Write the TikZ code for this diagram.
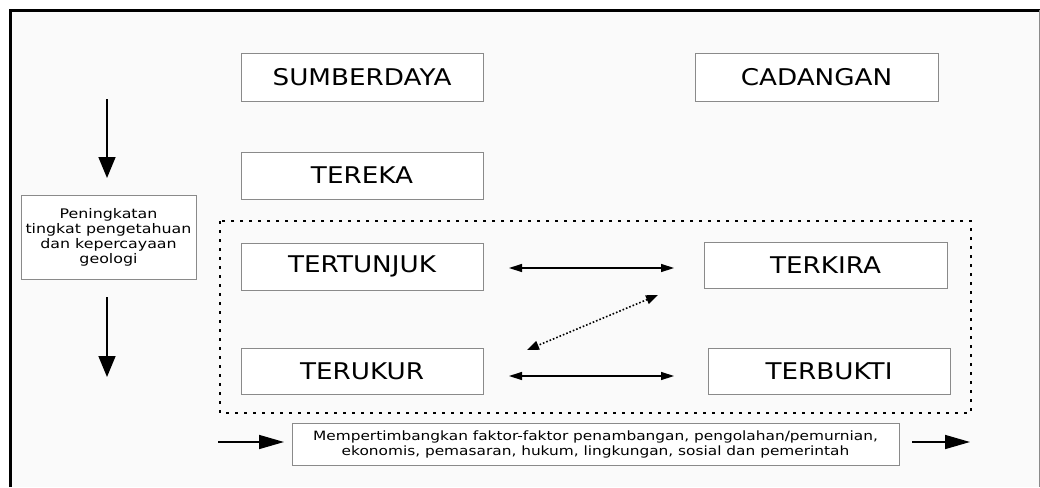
\documentclass[tikz,border=0pt]{standalone}
\usepackage{fontspec}
\setmainfont{DejaVu Sans}[FakeStretch=1.14]
\newfontfamily\smallf{DejaVu Sans}[FakeStretch=1.2]
\usetikzlibrary{arrows.meta}
\definecolor{bggrey}{HTML}{FAFAFA}
\definecolor{boxline}{HTML}{8A8A8A}
\tikzset{
  bigbox/.style={draw=boxline, line width=1pt, fill=white, minimum width=242pt, minimum height=47pt, inner sep=0pt, font=\fontsize{23}{26}\selectfont},
  smallbox/.style={draw=boxline, line width=1pt, fill=white, inner sep=0pt, align=center},
  bigarrow/.style={line width=1.6pt, -{Triangle[length=21pt,width=17pt]}},
  sidearrow/.style={line width=1.6pt, -{Triangle[length=25pt,width=14pt]}},
  dblarrow/.style={line width=1.4pt, {Triangle[length=13pt,width=8pt]}-{Triangle[length=13pt,width=8pt]}},
  dotarrow/.style={line width=1.6pt, dotted, {Triangle[length=12pt,width=9pt]}-{Triangle[length=12pt,width=9pt]}},
  dotframe/.style={line width=1.5pt, dash pattern=on 3pt off 6pt}
}
\begin{document}
\begin{tikzpicture}[x=1pt,y=-1pt]
\useasboundingbox (0,0) rectangle (1040,487);
\fill[white] (0,0) rectangle (1040,487);
\fill[bggrey] (10,10) rectangle (1039,487);
\draw[line width=3pt] (10.5,487) -- (10.5,10.5) -- (1040,10.5);
\draw[boxline, line width=1pt] (1039,10) -- (1039,487);

\node[bigbox] (sumber) at (362,77.5) {SUMBERDAYA};
\node[bigbox, minimum width=243pt] (cadangan) at (816.5,77.5) {CADANGAN};
\node[bigbox] (tereka) at (362,175.5) {TEREKA};
\node[bigbox] (tertunjuk) at (362,266.5) {TERTUNJUK};
\node[bigbox, minimum height=46pt] (terukur) at (362,371) {TERUKUR};
\node[bigbox, minimum width=243pt, minimum height=46pt] (terkira) at (825.5,265) {TERKIRA};
\node[bigbox, minimum height=46pt] (terbukti) at (829,371) {TERBUKTI};

\draw[dotframe] (220,221) rectangle (971,413);

\node[smallbox, minimum width=175pt, minimum height=84pt, font=\smallf\fontsize{13.2}{15}\selectfont] (left) at (108.5,237) {Peningkatan\\tingkat pengetahuan\\dan kepercayaan\\geologi};
\node[smallbox, minimum width=607pt, minimum height=42pt, font=\smallf\fontsize{12.8}{15}\selectfont] (bottom) at (595.5,444) {Mempertimbangkan faktor-faktor penambangan, pengolahan/pemurnian,\\ekonomis, pemasaran, hukum, lingkungan, sosial dan pemerintah};

\coordinate (a1s) at (107,99);
\coordinate (a1e) at (107,178);
\coordinate (a2s) at (107,297);
\coordinate (a2e) at (107,377);
\draw[bigarrow] (a1s) -- (a1e);
\draw[bigarrow] (a2s) -- (a2e);

\coordinate (b1s) at (218,442);
\coordinate (b1e) at (284,442);
\coordinate (b2s) at (912,442);
\coordinate (b2e) at (970,442);
\draw[sidearrow] (b1s) -- (b1e);
\draw[sidearrow] (b2s) -- (b2e);

\coordinate (h1l) at (509,268);
\coordinate (h1r) at (674,268);
\coordinate (h2l) at (509,376);
\coordinate (h2r) at (674,376);
\draw[dblarrow] (h1l) -- (h1r);
\draw[dblarrow] (h2l) -- (h2r);

\coordinate (d1) at (658,295);
\coordinate (d2) at (527,350);
\draw[dotarrow] (d1) -- (d2);
\end{tikzpicture}
\end{document}
